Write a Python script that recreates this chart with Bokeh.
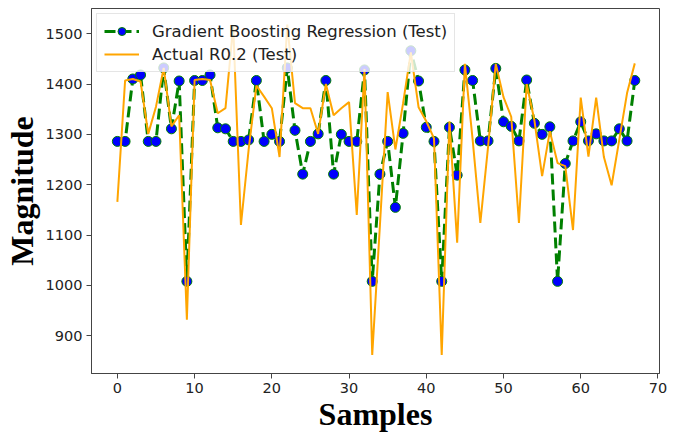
from bokeh.plotting import figure
from bokeh.models import Range1d, Legend, LegendItem, FixedTicker
from bokeh.embed import file_html
from bokeh.resources import INLINE

samples = list(range(68))

gb_pred = [1286, 1286, 1410, 1418, 1286, 1286, 1432, 1311, 1406, 1008,
           1407, 1407, 1418, 1313, 1311, 1286, 1286, 1289, 1407, 1286,
           1300, 1286, 1432, 1308, 1221, 1286, 1301, 1407, 1221, 1300,
           1286, 1286, 1428, 1008, 1221, 1286, 1155, 1302, 1466, 1406,
           1314, 1286, 1008, 1314, 1219, 1428, 1407, 1287, 1287, 1431,
           1325, 1316, 1287, 1408, 1322, 1300, 1315, 1008, 1242, 1287,
           1325, 1287, 1301, 1287, 1287, 1311, 1287, 1407]

actual = [1166, 1407, 1410, 1405, 1301, 1355, 1432, 1316, 1338, 932,
          1408, 1410, 1408, 1342, 1352, 1515, 1120, 1270, 1397, 1375,
          1352, 1255, 1518, 1362, 1352, 1352, 1301, 1400, 1338, 1352,
          1364, 1140, 1430, 862, 1120, 1384, 1270, 1362, 1463, 1354,
          1326, 1292, 862, 1326, 1085, 1440, 1290, 1124, 1275, 1440,
          1374, 1335, 1124, 1400, 1328, 1217, 1306, 1243, 1237, 1110,
          1373, 1256, 1373, 1255, 1199, 1290, 1382, 1441]

x_ticks = [0, 10, 20, 30, 40, 50, 60, 70]
y_ticks = [900, 1000, 1100, 1200, 1300, 1400, 1500]

p = figure(width=678, height=434, output_backend="svg", toolbar_location=None,
           x_range=Range1d(-3.35, 70.2), y_range=Range1d(825, 1550),
           min_border_left=91, min_border_right=19, min_border_top=8,
           min_border_bottom=60, background_fill_color="white",
           border_fill_color="white")

p.xgrid.visible = False
p.ygrid.visible = False
p.outline_line_color = "#444444"
p.outline_line_width = 1

gb_line = p.line(samples, gb_pred, line_color="green", line_width=3,
                 line_dash="11 5")
gb_pts = p.scatter(samples, gb_pred, size=10, fill_color="blue",
                   line_color="green", line_width=1)
act_line = p.line(samples, actual, line_color="orange", line_width=2)

legend = Legend(items=[
    LegendItem(label="Gradient Boosting Regression (Test)", renderers=[gb_line, gb_pts]),
    LegendItem(label="Actual R0.2 (Test)", renderers=[act_line]),
], location="top_left")
legend.label_text_font = "DejaVu Sans"
legend.label_text_font_size = "16.5px"
legend.label_text_color = "#222222"
legend.background_fill_color = "white"
legend.background_fill_alpha = 0.8
legend.border_line_color = "#cccccc"
legend.border_line_width = 1
legend.margin = 5
legend.padding = 7
legend.spacing = 3
legend.glyph_width = 35
legend.glyph_height = 20
legend.label_standoff = 13
p.add_layout(legend)

for ax in (p.xaxis, p.yaxis):
    ax.major_label_text_font = "DejaVu Sans"
    ax.major_label_text_font_size = "14.5px"
    ax.major_label_text_color = "#222222"
    ax.axis_label_text_font = "Liberation Serif"
    ax.axis_label_text_font_style = "bold"
    ax.axis_label_text_font_size = "32px"
    ax.axis_label_text_color = "black"
    ax.minor_tick_line_color = None
    ax.major_tick_out = 5
    ax.major_tick_in = 0
    ax.axis_line_color = "#444444"
    ax.major_tick_line_color = "#444444"

p.xaxis.ticker = FixedTicker(ticks=x_ticks)
p.yaxis.ticker = FixedTicker(ticks=y_ticks)
p.xaxis.axis_label = "Samples"
p.yaxis.axis_label = "Magnitude"
p.xaxis.major_label_standoff = 4
p.xaxis.axis_label_standoff = 0
p.yaxis.major_label_standoff = 4
p.yaxis.axis_label_standoff = 3

open("out.html", "w").write(file_html(p, INLINE))
